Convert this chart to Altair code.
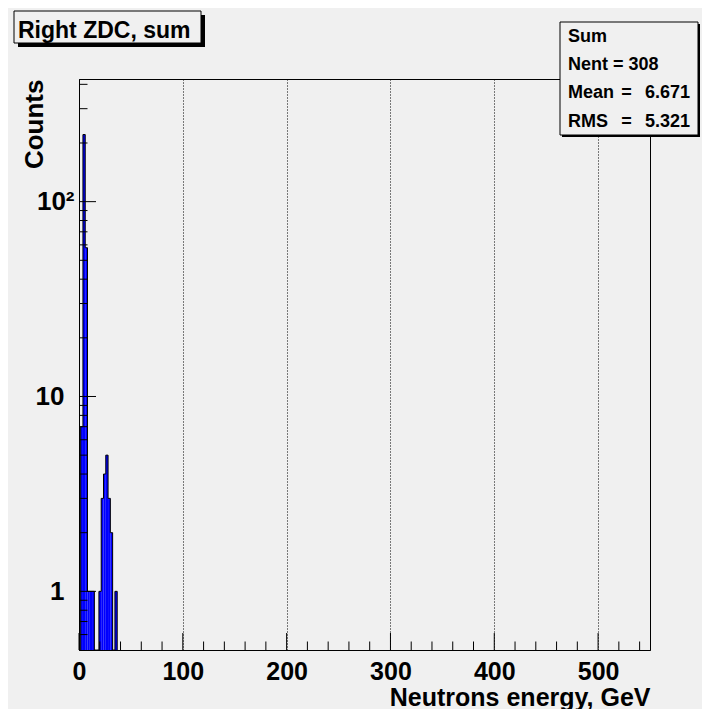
import altair as alt
import pandas as pd

# ---- data ----
BIN_START = 1.6
BIN_WIDTH = 2.2
counts = [7, 221, 58, 1, 1, 1, 0, 0, 1, 3, 4, 5, 3, 2, 0, 1]

x_major = [0, 100, 200, 300, 400, 500]
x_minor = [20, 40, 60, 80, 120, 140, 160, 180, 220, 240, 260, 280, 320, 340, 360, 380,
           420, 440, 460, 480, 520, 540]
y_major = [1, 10, 100]
y_minor = [0.6, 0.7, 0.8, 0.9, 2, 3, 4, 5, 6, 7, 8, 9, 20, 30, 40, 50, 60, 70, 80, 90,
           200, 300, 400]

title_text = "Right ZDC, sum"
stats_header = ["Sum", "Nent = 308"]
stats_names = ["Mean", "RMS"]
stats_values = ["6.671", "5.321"]

X_DOMAIN = [0, 550]
Y_DOMAIN = [0.5, 426]

FONT = "Liberation Sans"
W, H = 571, 571

# ---- tables ----
lo = [BIN_START + BIN_WIDTH * k for k in range(len(counts))]
bars_df = pd.DataFrame({"energy": lo, "energy_hi": [v + BIN_WIDTH for v in lo],
                        "counts": counts})
bars_df = bars_df[bars_df.counts > 0]

ymin = Y_DOMAIN[0]
pts = [(lo[0], ymin)]
for k, c in enumerate(counts):
    v = max(c, ymin)
    pts.append((lo[k], v))
    pts.append((lo[k] + BIN_WIDTH, v))
pts.append((lo[-1] + BIN_WIDTH, ymin))
outline_df = pd.DataFrame({"energy": [p[0] for p in pts], "counts": [p[1] for p in pts],
                           "i": list(range(len(pts)))})

xs = alt.Scale(domain=X_DOMAIN, nice=False, zero=False)
ys = alt.Scale(type="log", domain=Y_DOMAIN, nice=False)

x_axis = alt.Axis(values=x_major, grid=True, gridDash=[1, 2], gridColor="black",
                  gridOpacity=1, gridWidth=1, ticks=False, domain=True,
                  domainColor="black", labelFont=FONT, labelFontSize=25,
                  labelFontWeight="bold", labelColor="black", labelPadding=9,
                  labelFlush=False, labelOverlap=False,
                  title="Neutrons energy, GeV", titleFont=FONT, titleFontSize=25,
                  titleFontWeight="bold", titleColor="black", titleAlign="right",
                  titleBaseline="alphabetic", titleX=W, titleY=55)
y_axis = alt.Axis(values=y_major, grid=False, ticks=False, domain=True,
                  domainColor="black", labelFont=FONT, labelFontSize=26,
                  labelFontWeight="bold", labelColor="black",
                  labelExpr="datum.value >= 100 ? '10\u00b2' : (datum.value >= 10 ? '10' : '1')",
                  labelPadding={"condition": {"test": "datum.value >= 100", "value": 5}, "value": 15},
                  labelAlign="right", labelBaseline="middle", labelOverlap=False,
                  labelFlush=False,
                  title="Counts", titleFont=FONT, titleFontSize=26,
                  titleFontWeight="bold", titleColor="black", titleAngle=270,
                  titleAlign="right", titleBaseline="middle", titleX=-45, titleY=0)

bars = alt.Chart(bars_df).mark_rect(fill="#0000ff", strokeWidth=0).encode(
    x=alt.X("energy:Q", scale=xs, axis=x_axis),
    x2="energy_hi:Q",
    y=alt.Y("counts:Q", scale=ys, axis=y_axis),
    y2=alt.value(H),
)

outline = alt.Chart(outline_df).mark_line(color="black", strokeWidth=1).encode(
    x=alt.X("energy:Q", scale=xs),
    y=alt.Y("counts:Q", scale=ys),
    order="i:Q",
)

xt_major = alt.Chart(pd.DataFrame({"energy": x_major})).mark_rule(color="black").encode(
    x=alt.X("energy:Q", scale=xs), y=alt.value(H), y2=alt.value(H - 17))
xt_minor = alt.Chart(pd.DataFrame({"energy": x_minor})).mark_rule(color="black").encode(
    x=alt.X("energy:Q", scale=xs), y=alt.value(H), y2=alt.value(H - 8.5))
yt_major = alt.Chart(pd.DataFrame({"counts": y_major})).mark_rule(color="black").encode(
    y=alt.Y("counts:Q", scale=ys), x=alt.value(0), x2=alt.value(17))
yt_minor = alt.Chart(pd.DataFrame({"counts": y_minor})).mark_rule(color="black").encode(
    y=alt.Y("counts:Q", scale=ys), x=alt.value(0), x2=alt.value(8.5))

one = pd.DataFrame({"a": [0]})

def box(x1, y1, x2, y2, shadow):
    sh = alt.Chart(one).mark_rect(fill="black").encode(
        x=alt.value(x1 + shadow), x2=alt.value(x2 + shadow),
        y=alt.value(y1 + shadow), y2=alt.value(y2 + shadow))
    bx = alt.Chart(one).mark_rect(fill="#f0f0f0", stroke="black", strokeWidth=1).encode(
        x=alt.value(x1), x2=alt.value(x2), y=alt.value(y1), y2=alt.value(y2))
    return [sh, bx]

def txt(s, x, y, size, align="left"):
    return alt.Chart(one).mark_text(text=s, font=FONT, fontSize=size, fontWeight="bold",
                                    color="black", align=align,
                                    baseline="alphabetic").encode(
        x=alt.value(x), y=alt.value(y))

layers = [bars, outline, xt_major, xt_minor, yt_major, yt_minor]
layers += box(-65, -68, 122, -36, 4)
layers.append(txt(title_text, -61, -41.5, 23))
layers += box(481, -57, 619, 56, 2)
layers.append(txt(stats_header[0], 489, -37.3, 18))
layers.append(txt(stats_header[1], 489, -9, 18))
row_y = [19.3, 47.7]
for name, val, yy in zip(stats_names, stats_values, row_y):
    layers.append(txt(name, 489, yy, 18))
    layers.append(txt("=", 547.5, yy, 18, "center"))
    layers.append(txt(val, 611, yy, 18, "right"))

chart = alt.layer(*layers).properties(
    width=W, height=H,
    padding={"left": 71, "top": 71, "right": 52, "bottom": 59},
    autosize=alt.AutoSizeParams(type="none"),
    background="#f0f0f0",
).configure_view(stroke="black", strokeWidth=1)

chart.save("out.html", embed_options={"renderer": "svg", "actions": False})
